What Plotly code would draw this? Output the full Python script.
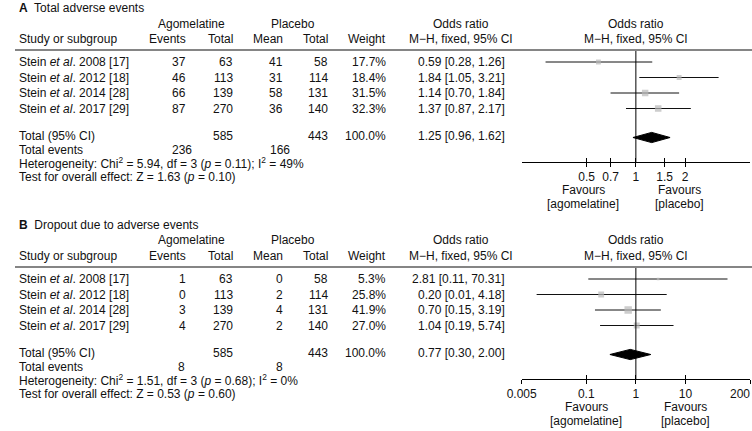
import math
import plotly.graph_objects as go

W, H = 752, 431
FONT = "Liberation Sans, Arial, sans-serif"

# ---------------- data ----------------
studies = ["Stein <i>et al</i>. 2008 [17]", "Stein <i>et al</i>. 2012 [18]",
           "Stein <i>et al</i>. 2014 [28]", "Stein <i>et al</i>. 2017 [29]"]

# Panel A: total adverse events
a_title = "Total adverse events"
a_ago_events = [37, 46, 66, 87]
a_ago_total = [63, 113, 139, 270]
a_pla_events = [41, 31, 58, 36]
a_pla_total = [58, 114, 131, 140]
a_weight = [17.7, 18.4, 31.5, 32.3]
a_or = [0.59, 1.84, 1.14, 1.37]
a_lo = [0.28, 1.05, 0.70, 0.87]
a_hi = [1.26, 3.21, 1.84, 2.17]
a_sum_total = [585, 443]
a_sum_weight = 100.0
a_sum_events = [236, 166]
a_pooled = [1.25, 0.96, 1.62]
a_het = ["5.94", "3", "0.11", "49%"]
a_test = ["1.63", "0.10"]
a_ticks = [0.5, 0.7, 1, 1.5, 2]
a_ticktext = ["0.5", "0.7", "1", "1.5", "2"]
a_range = [0.2, 5]

# Panel B: dropout due to adverse events
b_title = "Dropout due to adverse events"
b_ago_events = [1, 0, 3, 4]
b_ago_total = [63, 113, 139, 270]
b_pla_events = [0, 2, 4, 2]
b_pla_total = [58, 114, 131, 140]
b_weight = [5.3, 25.8, 41.9, 27.0]
b_or = [2.81, 0.20, 0.70, 1.04]
b_lo = [0.11, 0.01, 0.15, 0.19]
b_hi = [70.31, 4.18, 3.19, 5.74]
b_sum_total = [585, 443]
b_sum_weight = 100.0
b_sum_events = [8, 8]
b_pooled = [0.77, 0.30, 2.00]
b_het = ["1.51", "3", "0.68", "0%"]
b_test = ["0.53", "0.60"]
b_ticks = [0.005, 0.1, 1, 10, 200]
b_ticktext = ["0.005", "0.1", "1", "10", "200"]
b_range = [0.005, 200]

panels = [
    dict(letter="A", title=a_title, ae=a_ago_events, at=a_ago_total, pe=a_pla_events,
         pt=a_pla_total, w=a_weight, orr=a_or, lo=a_lo, hi=a_hi, st=a_sum_total,
         sw=a_sum_weight, se=a_sum_events, pooled=a_pooled, het=a_het, test=a_test,
         ticks=a_ticks, ticktext=a_ticktext, rng=a_range, off=0, fav=(580, 678)),
    dict(letter="B", title=b_title, ae=b_ago_events, at=b_ago_total, pe=b_pla_events,
         pt=b_pla_total, w=b_weight, orr=b_or, lo=b_lo, hi=b_hi, st=b_sum_total,
         sw=b_sum_weight, se=b_sum_events, pooled=b_pooled, het=b_het, test=b_test,
         ticks=b_ticks, ticktext=b_ticktext, rng=b_range, off=217, fav=(583, 684)),
]

# ---------------- layout helpers ----------------
ROW0, PITCH = 62.0, 15.5
TOTAL_Y = 136.0
SUB_PITCH = 13.6
LINE_Y, AXIS_Y = 50.0, 162.0
X0, X1 = 517.0, 750.0
TICKLAB_Y = 177.0


def px(x):
    return x / W


def py(y):
    return 1 - y / H


def row_of(ypix):
    return (ypix - ROW0) / PITCH


def x_of(v, rng):
    # pixel position of value v on the log axis (used only to place the clipped edge label)
    a, b = math.log10(rng[0]), math.log10(rng[1])
    return X0 + (math.log10(v) - a) / (b - a) * (X1 - X0)


annotations = []
shapes = []


def txt(s, x, y, anchor="left", size=12):
    annotations.append(dict(text=s, x=px(x), y=py(y), xref="paper", yref="paper",
                            xanchor=anchor, yanchor="middle", showarrow=False,
                            borderpad=0,
                            font=dict(family=FONT, size=size, color="#111111")))


def fmt_ci(v):
    return f"{v[0]:.2f} [{v[1]:.2f}, {v[2]:.2f}]"


fig = go.Figure()
layout_axes = {}

y_top = row_of(LINE_Y)
y_bot = row_of(AXIS_Y)

for k, p in enumerate(panels):
    off = p["off"]
    n = len(studies)
    xa = "x" if k == 0 else "x2"
    ya = "y" if k == 0 else "y2"
    xo = "x3" if k == 0 else "x4"
    # ---- text table ----
    txt(f"<b>{p['letter']}</b>  {p['title']}", 3, 8 + off, size=12)
    txt("Agomelatine", 180, 23.5 + off, "center")
    txt("Placebo", 284, 23.5 + off, "center")
    txt("Odds ratio", 455, 23.5 + off, "center")
    txt("Odds ratio", 634, 23.5 + off, "center")
    hy = 38.5 + off
    txt("Study or subgroup", 3, hy)
    txt("Events", 176, hy, "right")
    txt("Total", 223, hy, "right")
    txt("Mean", 274, hy, "right")
    txt("Total", 320, hy, "right")
    txt("Weight", 380, hy, "right")
    txt("M\u2212H, fixed, 95% CI", 455, hy, "center")
    txt("M\u2212H, fixed, 95% CI", 634, hy, "center")
    shapes.append(dict(type="line", xref="paper", yref="paper", x0=0, x1=1,
                       y0=py(LINE_Y + off), y1=py(LINE_Y + off),
                       line=dict(color="#858585", width=2)))
    for i in range(n):
        y = ROW0 + PITCH * i + off
        txt(studies[i], 3, y)
        txt(str(p["ae"][i]), 176, y, "right")
        txt(str(p["at"][i]), 223, y, "right")
        txt(str(p["pe"][i]), 274, y, "right")
        txt(str(p["pt"][i]), 320, y, "right")
        txt(f"{p['w'][i]:.1f}%", 380, y, "right")
        txt(fmt_ci([p["orr"][i], p["lo"][i], p["hi"][i]]), 501, y, "right")
    ty = TOTAL_Y + off
    txt("Total (95% CI)", 3, ty)
    txt(str(p["st"][0]), 223, ty, "right")
    txt(str(p["st"][1]), 320, ty, "right")
    txt(f"{p['sw']:.1f}%", 380, ty, "right")
    txt(fmt_ci(p["pooled"]), 501, ty, "right")
    ey = ty + SUB_PITCH
    txt("Total events", 3, ey)
    txt(str(p["se"][0]), 170, ey, "center")
    txt(str(p["se"][1]), 270, ey, "center")
    h = p["het"]
    txt(f"Heterogeneity: Chi<sup>2</sup> = {h[0]}, df = {h[1]} (<i>p</i> = {h[2]}); "
        f"I<sup>2</sup> = {h[3]}", 3, ey + SUB_PITCH)
    t = p["test"]
    txt(f"Test for overall effect: Z = {t[0]} (<i>p</i> = {t[1]})", 3, ey + 2 * SUB_PITCH)
    txt("Favours", p["fav"][0], 189.5 + off, "center")
    txt("[agomelatine]", p["fav"][0], 203.5 + off, "center")
    txt("Favours", p["fav"][1], 189.5 + off, "center")
    txt("[placebo]", p["fav"][1], 203.5 + off, "center")

    # tick labels that sit on the right edge of the window would be hidden by the
    # axis (they overflow the page), so draw those as right-aligned text instead
    ticktext = list(p["ticktext"])
    for j, v in enumerate(p["ticks"]):
        if x_of(v, p["rng"]) + 3.4 * len(ticktext[j]) > W - 1:
            txt(ticktext[j], W - 1, TICKLAB_Y + off, "right")
            ticktext[j] = ""

    # ---- forest plot ----
    rows = list(range(n))
    cx, cy = [], []
    for i in rows:
        cx += [p["lo"][i], p["hi"][i], None]
        cy += [i, i, None]
    fig.add_trace(go.Scatter(x=cx, y=cy, mode="lines", xaxis=xa, yaxis=ya,
                             line=dict(color="#111111", width=1),
                             hoverinfo="skip", showlegend=False))
    fig.add_trace(go.Scatter(x=p["orr"], y=rows, mode="markers", xaxis=xa, yaxis=ya,
                             marker=dict(symbol="square", color="#b8b8b8",
                                         size=[1.15 * math.sqrt(w) for w in p["w"]],
                                         line=dict(width=0)),
                             hoverinfo="skip", showlegend=False))
    est, lo, hi = p["pooled"]
    yt = row_of(TOTAL_Y + 1.5)
    dh = 0.33
    fig.add_trace(go.Scatter(x=[lo, est, hi, est, lo], y=[yt, yt - dh, yt, yt + dh, yt],
                             mode="lines", fill="toself", fillcolor="black",
                             line=dict(color="black", width=1), xaxis=xa, yaxis=ya,
                             hoverinfo="skip", showlegend=False))
    fig.add_trace(go.Scatter(x=[1, 1], y=[y_top, y_bot], mode="lines", xaxis=xa, yaxis=ya,
                             line=dict(color="black", width=1),
                             hoverinfo="skip", showlegend=False))
    fig.add_trace(go.Scatter(x=[1], y=[None], mode="markers", xaxis=xo, yaxis=ya,
                             marker=dict(opacity=0), hoverinfo="skip", showlegend=False))

    lr = [math.log10(p["rng"][0]), math.log10(p["rng"][1])]
    dom_y = [py(AXIS_Y + off), py(LINE_Y + off)]
    axname = "xaxis" if k == 0 else "xaxis2"
    yname = "yaxis" if k == 0 else "yaxis2"
    oname = "xaxis3" if k == 0 else "xaxis4"
    layout_axes[axname] = dict(type="log", domain=[px(X0), px(X1)], range=lr, anchor=ya,
                               showline=True, linecolor="black", linewidth=1,
                               ticks="outside", ticklen=4, tickwidth=1, tickcolor="black",
                               tickmode="array", tickvals=p["ticks"], ticktext=ticktext,
                               tickfont=dict(family=FONT, size=12, color="#111111"),
                               showgrid=False, zeroline=False, fixedrange=True)
    layout_axes[oname] = dict(type="log", overlaying=xa, anchor=ya, range=lr, side="bottom",
                              showline=False, ticks="inside", ticklen=4, tickwidth=1,
                              tickcolor="black", tickmode="array", tickvals=p["ticks"],
                              showticklabels=False, showgrid=False, zeroline=False,
                              fixedrange=True)
    layout_axes[yname] = dict(domain=dom_y, range=[y_bot, y_top], visible=False,
                              anchor=xa, fixedrange=True)

fig.update_layout(width=W, height=H, margin=dict(l=0, r=0, t=0, b=0),
                  paper_bgcolor="white", plot_bgcolor="rgba(0,0,0,0)",
                  annotations=annotations, shapes=shapes, showlegend=False,
                  font=dict(family=FONT, size=12, color="#111111"), **layout_axes)
fig.write_html("out.html", config={"displayModeBar": False},
               post_script="document.body.style.margin='0px';"
                           "document.body.style.overflow='hidden';")
